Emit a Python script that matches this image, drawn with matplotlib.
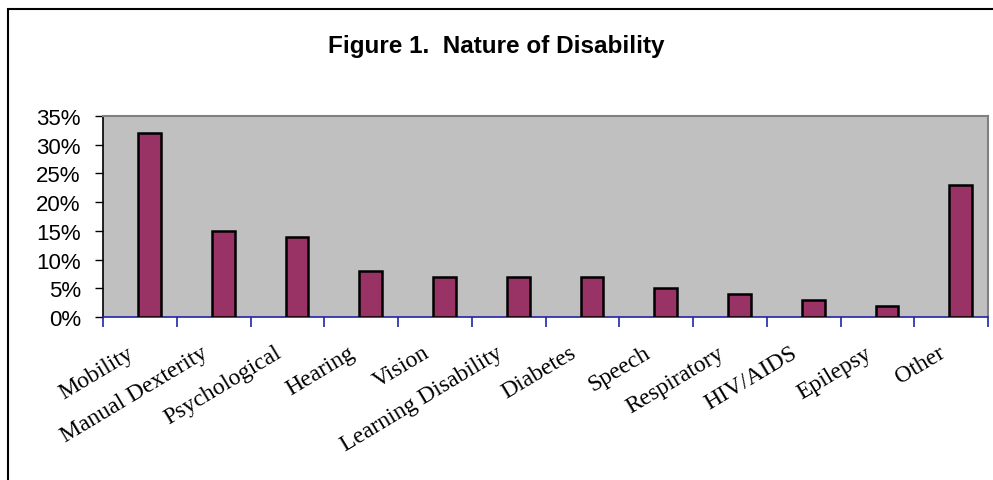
"""Bar chart of the nature of disability, Figure 1"""

import matplotlib
matplotlib.use("Agg")
from matplotlib import pyplot as plt
from matplotlib.patches import Rectangle
from matplotlib.ticker import FuncFormatter, MultipleLocator

# data
categories = ["Mobility", "Manual Dexterity", "Psychological", "Hearing", "Vision",
              "Learning Disability", "Diabetes", "Speech", "Respiratory",
              "HIV/AIDS", "Epilepsy", "Other"]
percent = [32, 15, 14, 8, 7, 7, 7, 5, 4, 3, 2, 23]

fig = plt.figure(figsize=(9.93, 4.81), dpi=100)
fig.patch.set_facecolor("white")

# outer chart frame (runs off the right and bottom of the picture)
fig.add_artist(Rectangle((8 / 993, -0.1), 1.1, 0.1 + (481 - 10) / 481,
                         transform=fig.transFigure, fill=False,
                         edgecolor="black", linewidth=1.5))

ax = fig.add_axes([103 / 993, 1 - 318 / 481, (988 - 103) / 993, (318 - 117) / 481])
ax.set_facecolor("#c0c0c0")

positions = [i + 0.13 for i in range(len(categories))]
ax.bar(positions, percent, width=0.31, color="#993366",
       edgecolor="black", linewidth=1.8, zorder=3)

ax.set_xlim(-0.5, len(categories) - 0.5)
ax.set_ylim(0, 35)
ax.yaxis.set_major_locator(MultipleLocator(5))
ax.yaxis.set_major_formatter(FuncFormatter(lambda v, p: f"{v:.0f}%"))

# spines
for side in ["top", "right"]:
    ax.spines[side].set_color("#808080")
    ax.spines[side].set_linewidth(1.5)
ax.spines["left"].set_color("black")
ax.spines["left"].set_linewidth(1.2)
ax.spines["bottom"].set_color("#2222aa")
ax.spines["bottom"].set_linewidth(1.2)

# category boundary ticks on the x axis
ax.set_xticks([i - 0.5 for i in range(len(categories) + 1)])
ax.set_xticklabels([])
ax.tick_params(axis="x", direction="out", length=7, color="#2222aa", width=1.2)
ax.tick_params(axis="y", direction="out", length=6, width=1, color="black",
               labelsize=16, pad=10)
for lab in ax.get_yticklabels():
    lab.set_family("Liberation Sans")

# rotated category labels
for i, name in enumerate(categories):
    ax.annotate(name, xy=(i, 0), xycoords=("data", "axes fraction"),
                xytext=(-13, -25), textcoords="offset pixels",
                rotation=31, ha="right", va="top", rotation_mode="anchor",
                family="Liberation Serif", fontsize=17)

fig.text(0.5, 1 - 47 / 481, "Figure 1.  Nature of Disability",
         ha="center", va="center", family="Liberation Sans",
         fontsize=17.5, fontweight="bold")

fig.savefig("out.png", dpi=100)
